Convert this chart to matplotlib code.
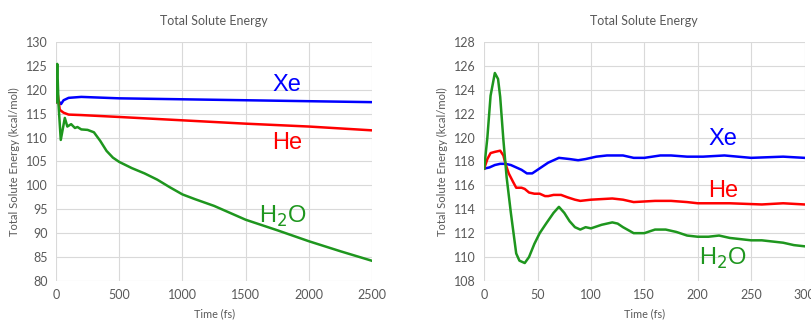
import matplotlib.pyplot as plt

plt.rcParams['font.family'] = ['Lato', 'DejaVu Sans']

# long run, 0-2500 fs
t_long_xe = [0, 15, 40, 60, 100, 200, 300, 500, 1000, 1500, 2000, 2500]
e_long_xe = [117.4, 117.8, 117.0, 117.8, 118.3, 118.5, 118.4, 118.2, 118.0, 117.8, 117.6, 117.4]
t_long_he = [0, 15, 30, 60, 100, 200, 500, 1000, 1500, 2000, 2500]
e_long_he = [117.4, 118.9, 115.8, 115.2, 114.8, 114.7, 114.3, 113.6, 112.9, 112.3, 111.5]
t_long_h2o = [0, 10, 20, 38, 70, 90, 120, 150, 170, 200, 250, 300, 350, 400, 450, 500,
              600, 700, 800, 900, 1000, 1100, 1250, 1500, 1750, 2000, 2250, 2500]
e_long_h2o = [117.4, 125.4, 117.0, 109.5, 114.1, 112.3, 112.8, 112.0, 112.2, 111.7, 111.6, 111.1,
              109.3, 107.2, 105.8, 104.9, 103.6, 102.5, 101.2, 99.6, 98.1, 97.1, 95.7, 92.8,
              90.6, 88.3, 86.2, 84.2]

# short run, 0-300 fs
t_xe = [0, 5, 10, 15, 20, 25, 30, 35, 40, 45, 50, 55, 60, 70, 80, 88, 95, 105, 115, 130,
        140, 150, 165, 175, 190, 205, 225, 250, 280, 300]
e_xe = [117.4, 117.5, 117.7, 117.8, 117.8, 117.7, 117.5, 117.3, 117.0, 117.0, 117.3, 117.6,
        117.9, 118.3, 118.2, 118.1, 118.2, 118.4, 118.5, 118.5, 118.3, 118.3, 118.5, 118.5,
        118.4, 118.4, 118.5, 118.3, 118.4, 118.3]
t_he = [0, 3, 6, 10, 15, 18, 20, 23, 27, 30, 35, 38, 42, 47, 52, 57, 60, 65, 72, 78, 85, 90,
        100, 120, 130, 140, 160, 175, 190, 200, 230, 260, 280, 300]
e_he = [117.4, 118.2, 118.7, 118.8, 118.9, 118.5, 117.8, 117.0, 116.3, 115.8, 115.8, 115.7,
        115.4, 115.3, 115.3, 115.1, 115.1, 115.2, 115.2, 115.0, 114.8, 114.7, 114.8, 114.9,
        114.8, 114.6, 114.7, 114.7, 114.6, 114.5, 114.5, 114.4, 114.5, 114.4]
t_h2o = [0, 3, 6, 10, 13, 15, 18, 21, 25, 30, 33, 38, 42, 47, 52, 58, 65, 70, 75, 80, 85, 90,
         95, 100, 110, 120, 125, 130, 140, 150, 160, 170, 180, 190, 200, 210, 220, 230, 240,
         250, 260, 270, 280, 290, 300]
e_h2o = [117.4, 120.0, 123.5, 125.4, 124.9, 123.4, 119.8, 116.7, 113.7, 110.3, 109.7, 109.5,
         110.0, 111.1, 112.0, 112.8, 113.7, 114.2, 113.7, 113.0, 112.5, 112.3, 112.5, 112.4,
         112.7, 112.9, 112.8, 112.5, 112.0, 112.0, 112.3, 112.3, 112.1, 111.8, 111.7, 111.7,
         111.8, 111.6, 111.5, 111.4, 111.4, 111.3, 111.2, 111.0, 110.9]

blue, red, green = '#0000ff', '#ff0000', '#1e961e'
gray = '#595959'

fig = plt.figure(figsize=(8.11, 3.2), dpi=100)
ax1 = fig.add_axes([0.069, 0.122, 0.390, 0.747])
ax2 = fig.add_axes([0.597, 0.122, 0.395, 0.747])


def style(ax, xmax, ylo, yhi, ystep, xstep):
    ax.set_xlim(0, xmax)
    ax.set_ylim(ylo, yhi)
    ax.set_xticks(range(0, xmax + 1, xstep))
    ax.set_yticks(range(ylo, yhi + 1, ystep))
    for s in ax.spines.values():
        s.set_visible(False)
    ax.grid(True, color='#d9d9d9', lw=0.8)
    ax.set_axisbelow(True)
    ax.tick_params(length=0, colors=gray, labelsize=9, pad=6)
    ax.set_title('Total Solute Energy', color=gray, fontsize=9, pad=12)
    ax.set_xlabel('Time (fs)', color=gray, fontsize=7.8, labelpad=5)
    ax.set_ylabel('Total Solute Energy (kcal/mol)', color=gray, fontsize=8.1, labelpad=4)


style(ax1, 2500, 80, 130, 5, 500)
style(ax2, 300, 108, 128, 2, 50)

ax1.plot(t_long_xe, e_long_xe, color=blue, lw=1.8)
ax1.plot(t_long_he, e_long_he, color=red, lw=1.8)
ax1.plot(t_long_h2o, e_long_h2o, color=green, lw=1.8)
ax2.plot(t_xe, e_xe, color=blue, lw=1.8)
ax2.plot(t_he, e_he, color=red, lw=1.8)
ax2.plot(t_h2o, e_h2o, color=green, lw=1.8)

lab = dict(family=['Liberation Sans', 'DejaVu Sans'], fontsize=17, ha='center', va='center')
ax1.text(1827, 121.0, 'Xe', color=blue, **lab)
ax1.text(1827, 108.8, 'He', color=red, **lab)
ax1.text(1796, 93.4, 'H$_2$O', color=green, **lab)
ax2.text(224, 119.9, 'Xe', color=blue, **lab)
ax2.text(224, 115.5, 'He', color=red, **lab)
ax2.text(224, 109.9, 'H$_2$O', color=green, **lab)

fig.savefig('out.png', dpi=100)
